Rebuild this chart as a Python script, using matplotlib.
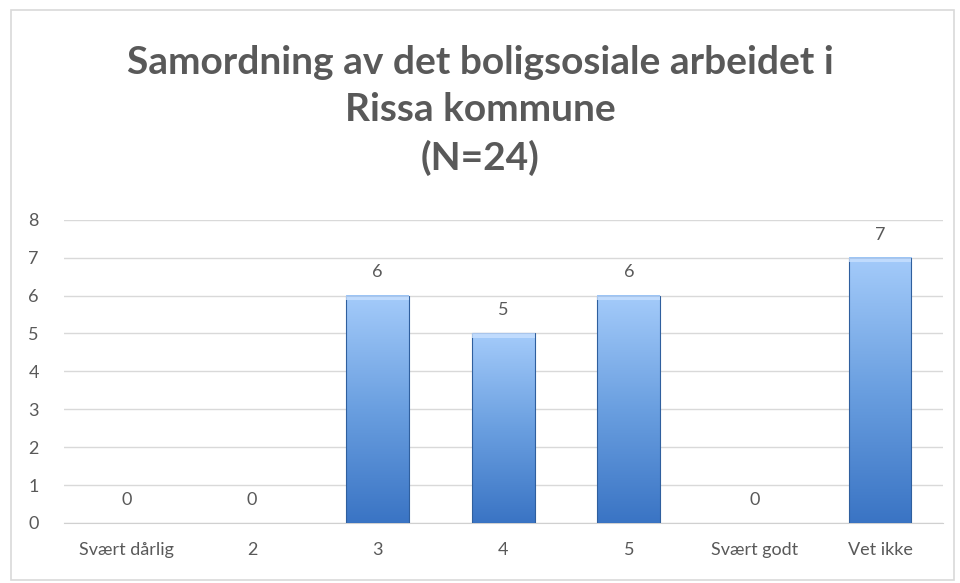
import numpy as np
import matplotlib.pyplot as plt
from matplotlib.colors import LinearSegmentedColormap
from matplotlib.patches import Rectangle

# data
categories = ["Svært dårlig", "2", "3", "4", "5", "Svært godt", "Vet ikke"]
values = [0, 0, 6, 5, 6, 0, 7]
title = "Samordning av det boligsosiale arbeidet i\nRissa kommune\n(N=24)"

plt.rcParams['font.family'] = ['Lato', 'DejaVu Sans']
grey = "#595959"

fig = plt.figure(figsize=(9.6, 5.83), dpi=100)
ax = fig.add_axes([0.0665, 0.103, 0.9155, 0.52])

# outer chart frame
fig.patches.append(Rectangle((0.011, 0.005), 0.983, 0.978, transform=fig.transFigure,
                             fill=False, edgecolor="#D9D9D9", linewidth=1.2))

cmap = LinearSegmentedColormap.from_list("bar", ["#3A74C4", "#6A9FE0", "#A4CBFA"])
grad = np.linspace(0, 1, 256).reshape(-1, 1)
x = np.arange(len(categories))
width = 0.5

for xi, v in zip(x, values):
    if v <= 0:
        continue
    ax.imshow(grad, cmap=cmap, origin="lower", aspect="auto",
              extent=(xi - width / 2, xi + width / 2, 0, v), zorder=3)
    ax.add_patch(Rectangle((xi - width / 2, 0), width, v, fill=False,
                           edgecolor="#2F5F9E", linewidth=0.8, zorder=4))
    # light top bevel
    ax.add_patch(Rectangle((xi - width / 2, v - 0.12), width, 0.12,
                           facecolor="#C8E0FF", edgecolor="none", alpha=0.8, zorder=4))

for xi, v in zip(x, values):
    ax.text(xi, v + 0.4, str(v), ha="center", va="bottom", fontsize=13, color=grey)

ax.set_xlim(-0.5, len(categories) - 0.5)
ax.set_ylim(0, 8)
ax.set_yticks(range(0, 9))
ax.set_xticks(x)
ax.set_xticklabels(categories)
ax.tick_params(axis="both", length=0, labelsize=13, labelcolor=grey)
ax.tick_params(axis="x", pad=14)
ax.tick_params(axis="y", pad=18)
ax.grid(axis="y", color="#D9D9D9", linewidth=1, zorder=0)
ax.set_axisbelow(True)
for s in ["top", "right", "left"]:
    ax.spines[s].set_visible(False)
ax.spines["bottom"].set_color("#D0D0D0")

fig.text(0.50, 0.811, title, ha="center", va="center", fontsize=28,
         fontweight="bold", color=grey, linespacing=1.42)

fig.savefig("out.png", dpi=100)
